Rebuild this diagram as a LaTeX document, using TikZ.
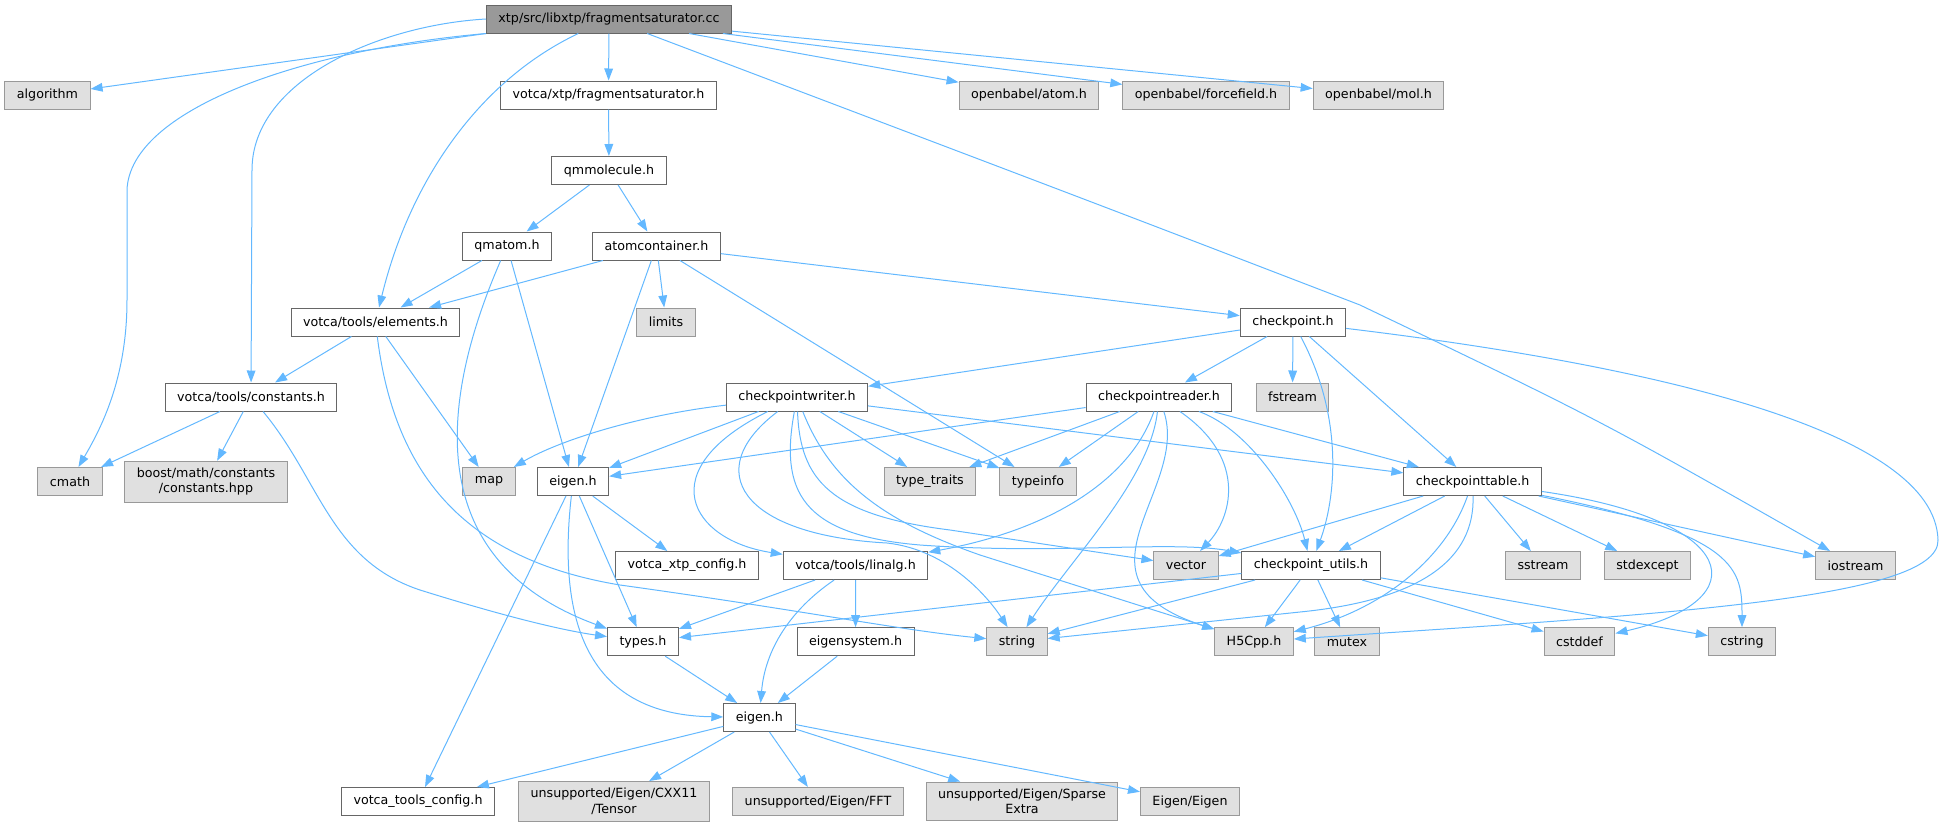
\documentclass[tikz,border=0pt]{standalone}
\usepackage{fontspec}
\setmainfont{DejaVu Sans}
\usetikzlibrary{arrows.meta}
\definecolor{incblue}{HTML}{63B8FF}
\definecolor{fileline}{HTML}{666666}
\definecolor{sysline}{HTML}{999999}
\definecolor{sysfill}{HTML}{E0E0E0}
\definecolor{mainfill}{HTML}{999999}

\begin{document}
\begin{tikzpicture}[x=0.75pt,y=-0.75pt,
  file/.style={rectangle,draw=fileline,fill=white,line width=0.75pt,font=\fontsize{9.5}{11.5}\selectfont,inner xsep=9pt,inner ysep=5pt,minimum height=21pt,align=center},
  sysfile/.style={file,draw=sysline,fill=sysfill},
  mainfile/.style={file,fill=mainfill},
  inc/.style={draw=incblue,line width=0.75pt,-{Triangle[length=9pt,width=6.5pt]}}]
\useasboundingbox (0,0) rectangle (1945,829);
\node [mainfile] (root) at (609,19) {xtp/src/libxtp/fragmentsaturator.cc};
\node [sysfile] (algorithm) at (47.5,95) {algorithm};
\node [file] (fragsat) at (608.5,95) {votca/xtp/fragmentsaturator.h};
\node [sysfile] (obatom) at (1029,95) {openbabel/atom.h};
\node [sysfile] (obff) at (1206,95) {openbabel/forcefield.h};
\node [sysfile] (obmol) at (1378.5,95) {openbabel/mol.h};
\node [file] (qmmolecule) at (609,170.5) {qmmolecule.h};
\node [file] (qmatom) at (507,246) {qmatom.h};
\node [file] (atomcont) at (656.5,246) {atomcontainer.h};
\node [file] (elements) at (375.5,322) {votca/tools/elements.h};
\node [sysfile] (limits) at (666,322) {limits};
\node [file] (checkpoint) at (1293,322) {checkpoint.h};
\node [file] (constants) at (251,397) {votca/tools/constants.h};
\node [file] (cpwriter) at (797,397) {checkpointwriter.h};
\node [file] (cpreader) at (1159,397) {checkpointreader.h};
\node [sysfile] (fstream) at (1292.5,397) {fstream};
\node [sysfile] (cmath) at (70,481.5) {cmath};
\node [sysfile] (boost) at (206,481.7) {boost/math/constants\\/constants.hpp};
\node [sysfile] (map) at (489,481.5) {map};
\node [file] (xtpeigen) at (573,481.5) {eigen.h};
\node [sysfile] (typetraits) at (930,481.5) {type\_traits};
\node [sysfile] (typeinfo) at (1038,481.5) {typeinfo};
\node [file] (cptable) at (1472.6,481.5) {checkpointtable.h};
\node [file] (xtpconfig) at (687,565.5) {votca\_xtp\_config.h};
\node [file] (linalg) at (855.5,565.5) {votca/tools/linalg.h};
\node [sysfile] (vector) at (1186,565.5) {vector};
\node [file] (cputils) at (1311,565.5) {checkpoint\_utils.h};
\node [sysfile] (sstream) at (1543,565.5) {sstream};
\node [sysfile] (stdexcept) at (1647.4,565.5) {stdexcept};
\node [sysfile] (iostream) at (1855.5,565.5) {iostream};
\node [file] (types) at (643,641.7) {types.h};
\node [file] (eigensys) at (855.6,641.7) {eigensystem.h};
\node [sysfile] (string) at (1017,641.7) {string};
\node [sysfile] (hfive) at (1254,641.7) {H5Cpp.h};
\node [sysfile] (mutex) at (1347,641.7) {mutex};
\node [sysfile] (cstddef) at (1579.5,641.7) {cstddef};
\node [sysfile] (cstring) at (1742,641.7) {cstring};
\node [file] (toolseigen) at (759.4,717.5) {eigen.h};
\node [file] (toolsconfig) at (418,801.5) {votca\_tools\_config.h};
\node [sysfile] (tensor) at (614,801.3) {unsupported/Eigen/CXX11\\/Tensor};
\node [sysfile] (fft) at (818,801.5) {unsupported/Eigen/FFT};
\node [sysfile] (sparse) at (1022,801.3) {unsupported/Eigen/Sparse\\Extra};
\node [sysfile] (eigeneigen) at (1190,801.5) {Eigen/Eigen};

\draw [inc] (root.south west) -- (algorithm);
\draw [inc] (root.south west) .. controls (300,50) and (130,110) .. (127,190) -- (127,300) .. controls (127,380) and (100,430) .. (cmath);
\draw [inc] (root.west) .. controls (380,25) and (252,80) .. (252,170) -- (constants);
\draw [inc] (root) .. controls (480,80) and (410,180) .. (elements);
\draw [inc] (root) -- (fragsat);
\draw [inc] (root) -- (obatom);
\draw [inc] (root) -- (obff);
\draw [inc] (root) -- (obmol);
\draw [inc] (root) .. controls (1100,205) .. (1360,305) .. controls (1600,420) .. (iostream);
\draw [inc] (fragsat) -- (qmmolecule);
\draw [inc] (qmmolecule) -- (qmatom);
\draw [inc] (qmmolecule) -- (atomcont);
\draw [inc] (qmatom) -- (elements);
\draw [inc] (qmatom) -- (xtpeigen);
\draw [inc] (qmatom) .. controls (440,400) and (420,560) .. (types);
\draw [inc] (atomcont) -- (elements);
\draw [inc] (atomcont) -- (xtpeigen);
\draw [inc] (atomcont) -- (limits);
\draw [inc] (atomcont) -- (typeinfo);
\draw [inc] (atomcont) -- (checkpoint);
\draw [inc] (elements) -- (constants);
\draw [inc] (elements) -- (map);
\draw [inc] (elements) .. controls (395,480) and (470,560) .. (620,585) .. controls (800,610) and (900,630) .. (string);
\draw [inc] (constants) -- (cmath);
\draw [inc] (constants) -- (boost);
\draw [inc] (constants) .. controls (320,480) and (330,560) .. (420,590) .. controls (500,615) and (560,630) .. (types);
\draw [inc] (checkpoint) -- (cpwriter);
\draw [inc] (checkpoint) -- (cpreader);
\draw [inc] (checkpoint) -- (fstream);
\draw [inc] (checkpoint) -- (cptable);
\draw [inc] (checkpoint) .. controls (1345,420) and (1335,500) .. (cputils);
\draw [inc] (checkpoint) .. controls (1650,365) and (1935,430) .. (1938,540) .. controls (1940,600) and (1650,615) .. (hfive);
\draw [inc] (cpwriter) .. controls (640,415) and (560,440) .. (map);
\draw [inc] (cpwriter) -- (xtpeigen);
\draw [inc] (cpwriter) .. controls (650,470) and (690,540) .. (linalg);
\draw [inc] (cpwriter) .. controls (700,470) and (740,535) .. (887,543) .. controls (950,550) and (990,600) .. (string);
\draw [inc] (cpwriter) .. controls (780,490) and (800,535) .. (920,545) .. controls (1060,555) and (1170,540) .. (cputils);
\draw [inc] (cpwriter) .. controls (800,480) and (830,515) .. (950,530) -- (vector);
\draw [inc] (cpwriter) .. controls (830,480) and (880,520) .. (980,555) -- (hfive);
\draw [inc] (cpwriter) -- (typetraits);
\draw [inc] (cpwriter) -- (typeinfo);
\draw [inc] (cpwriter) -- (cptable);
\draw [inc] (cpreader) -- (xtpeigen);
\draw [inc] (cpreader) -- (typetraits);
\draw [inc] (cpreader) -- (typeinfo);
\draw [inc] (cpreader) -- (cptable);
\draw [inc] (cpreader) .. controls (1130,480) and (1050,530) .. (linalg);
\draw [inc] (cpreader) .. controls (1150,480) and (1070,560) .. (string);
\draw [inc] (cpreader) .. controls (1190,490) and (1060,580) .. (hfive);
\draw [inc] (cpreader) .. controls (1250,460) and (1230,520) .. (vector);
\draw [inc] (cpreader) .. controls (1250,430) and (1295,500) .. (cputils);
\draw [inc] (cptable) -- (vector);
\draw [inc] (cptable) -- (cputils);
\draw [inc] (cptable) -- (sstream);
\draw [inc] (cptable) -- (stdexcept);
\draw [inc] (cptable) -- (iostream);
\draw [inc] (cptable) .. controls (1445,560) and (1380,610) .. (hfive);
\draw [inc] (cptable) .. controls (1475,560) and (1420,600) .. (1300,612) -- (string);
\draw [inc] (cptable) .. controls (1740,520) and (1760,600) .. (cstddef);
\draw [inc] (cptable) .. controls (1740,535) and (1742,570) .. (cstring);
\draw [inc] (cputils) -- (types);
\draw [inc] (cputils) -- (string);
\draw [inc] (cputils) -- (hfive);
\draw [inc] (cputils) -- (mutex);
\draw [inc] (cputils) -- (cstddef);
\draw [inc] (cputils) -- (cstring);
\draw [inc] (linalg) -- (types);
\draw [inc] (linalg) -- (eigensys);
\draw [inc] (linalg) .. controls (790,610) and (765,650) .. (toolseigen);
\draw [inc] (eigensys) -- (toolseigen);
\draw [inc] (types) -- (toolseigen);
\draw [inc] (xtpeigen) -- (xtpconfig);
\draw [inc] (xtpeigen) -- (types);
\draw [inc] (xtpeigen) -- (toolsconfig);
\draw [inc] (xtpeigen) .. controls (555,640) and (600,715) .. (toolseigen);
\draw [inc] (toolseigen) -- (toolsconfig);
\draw [inc] (toolseigen) -- (tensor);
\draw [inc] (toolseigen) -- (fft);
\draw [inc] (toolseigen) -- (sparse);
\draw [inc] (toolseigen) -- (eigeneigen);
\end{tikzpicture}
\end{document}
